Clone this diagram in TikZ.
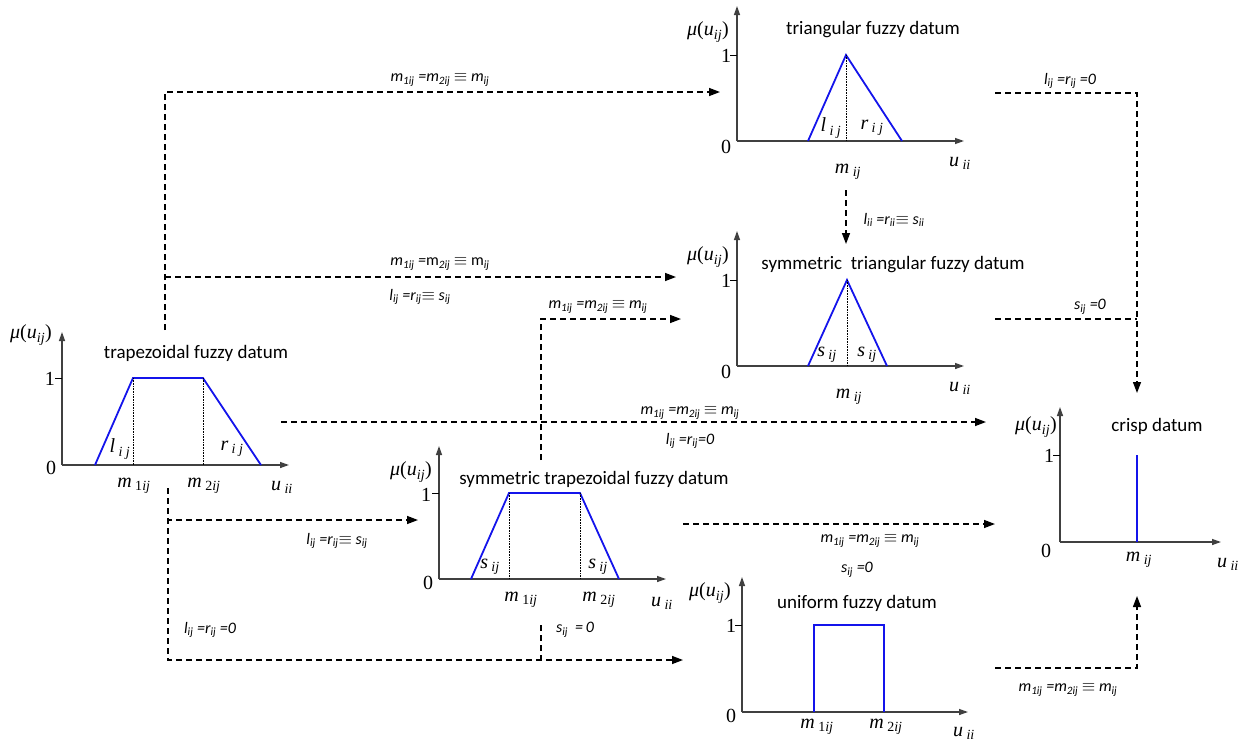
\documentclass[tikz,border=0pt]{standalone}
\usepackage{fontspec}
\setmainfont{Liberation Serif}
\newfontfamily\carl{Carlito}
\usetikzlibrary{arrows.meta}
\newcommand\tsub[1]{\textsubscript{#1}}
\newcommand\eqv{\ensuremath{\equiv}}
\newcommand\muu{\textit{μ}(\textit{u}\tsub{\textit{ij}})}
\tikzset{
  axis/.style={line width=1.3pt, draw=black!75, -{Triangle[length=9pt,width=6pt]}},
  curve/.style={draw={rgb,255:red,20;green,20;blue,235}, line width=1.8pt},
  dotl/.style={densely dotted, line width=0.6pt},
  conn/.style={dash pattern=on 6pt off 4pt, line width=1.4pt},
  arr/.style={conn, -{Triangle[length=11pt,width=8pt]}},
  lab/.style={font=\carl\itshape\fontsize{16}{18}\selectfont, inner sep=0},
  tl/.style={font=\fontsize{20}{22}\selectfont, inner sep=0},
  ttl/.style={font=\carl\fontsize{19}{21}\selectfont, inner sep=0},
}
\begin{document}
\begin{tikzpicture}[x=1pt,y=-1pt]
\useasboundingbox (0,0) rectangle (1243,742);

% ---------- triangular fuzzy datum ----------
\draw[axis] (737,141) -- (737,6);
\draw[axis] (737,141) -- (964,141);
\draw[line width=1pt] (730,55) -- (737,55);
\node[tl] (tri1) at (726,56) {1};
\node[tl] (tri0) at (726,147) {0};
\draw[curve] (808,141) -- (846,55) -- (902,141);
\draw[dotl] (846,55) -- (846,141);
\node[tl] (tril) at (831,128) {\textit{l}\,\tsub{\textit{i j}}};
\node[tl] (trir) at (872,128) {\textit{r}\,\tsub{\textit{i j}}};
\node[tl] (trim) at (848,172) {\textit{m}\,\tsub{\textit{ij}}};
\node[tl] (triu) at (960,163) {\textit{u}\,\tsub{\textit{ii}}};
\node[tl] (trimu) at (708,32) {\muu};
\node[ttl] (trit) at (873,30) {triangular fuzzy datum};

% ---------- symmetric triangular fuzzy datum ----------
\draw[axis] (737,366) -- (737,231);
\draw[axis] (737,366) -- (964,366);
\draw[line width=1pt] (730,280) -- (737,280);
\node[tl] (st1) at (726,281) {1};
\node[tl] (st0) at (726,372) {0};
\draw[curve] (808,366) -- (847,280) -- (887,366);
\draw[dotl] (847,280) -- (847,366);
\node[tl] (stl) at (827,355) {\textit{s}\,\tsub{\textit{ij}}};
\node[tl] (str) at (867,355) {\textit{s}\,\tsub{\textit{ij}}};
\node[tl] (stm) at (849,397) {\textit{m}\,\tsub{\textit{ij}}};
\node[tl] (stu) at (960,388) {\textit{u}\,\tsub{\textit{ii}}};
\node[tl] (stmu) at (708,257) {\muu};
\node[ttl] (stt) at (893,265) {symmetric\ \ triangular fuzzy datum};

% ---------- trapezoidal fuzzy datum ----------
\draw[axis] (62,465) -- (62,332);
\draw[axis] (62,465) -- (289,465);
\draw[line width=1pt] (55,378) -- (62,378);
\node[tl] (tr1) at (50,379) {1};
\node[tl] (tr0) at (51,468) {0};
\draw[curve] (95,465) -- (133,378) -- (203,378) -- (261,465);
\draw[dotl] (133,378) -- (133,465);
\draw[dotl] (203,378) -- (203,465);
\node[tl] (trl) at (120,449) {\textit{l}\,\tsub{\textit{i j}}};
\node[tl] (trr) at (232,449) {\textit{r}\,\tsub{\textit{i j}}};
\node[tl] (trm1) at (134,486) {\textit{m}\,\tsub{1\textit{ij}}};
\node[tl] (trm2) at (204,486) {\textit{m}\,\tsub{2\textit{ij}}};
\node[tl] (tru) at (282,487) {\textit{u}\,\tsub{\textit{ii}}};
\node[tl] (trmu) at (31,335) {\muu};
\node[ttl] (trt) at (196,353) {trapezoidal fuzzy datum};

% ---------- symmetric trapezoidal fuzzy datum ----------
\draw[axis] (439,579) -- (439,446);
\draw[axis] (439,579) -- (666,579);
\draw[line width=1pt] (432,493) -- (439,493);
\node[tl] (sp1) at (426,495) {1};
\node[tl] (sp0) at (428,583) {0};
\draw[curve] (471,579) -- (509,493) -- (580,493) -- (619,579);
\draw[dotl] (509,493) -- (509,579);
\draw[dotl] (580,493) -- (580,579);
\node[tl] (spl) at (490,567) {\textit{s}\,\tsub{\textit{ij}}};
\node[tl] (spr) at (598,567) {\textit{s}\,\tsub{\textit{ij}}};
\node[tl] (spm1) at (521,600) {\textit{m}\,\tsub{1\textit{ij}}};
\node[tl] (spm2) at (599,600) {\textit{m}\,\tsub{2\textit{ij}}};
\node[tl] (spu) at (662,603) {\textit{u}\,\tsub{\textit{ii}}};
\node[tl] (spmu) at (411,472) {\muu};
\node[ttl] (spt) at (594,479) {symmetric trapezoidal fuzzy datum};

% ---------- uniform fuzzy datum ----------
\draw[axis] (742,712) -- (742,577);
\draw[axis] (742,712) -- (968,712);
\draw[line width=1pt] (735,625) -- (742,625);
\node[tl] (un1) at (731,626) {1};
\node[tl] (un0) at (731,716) {0};
\draw[curve] (814,712) -- (814,625) -- (884,625) -- (884,712);
\node[tl] (unm1) at (817,727) {\textit{m}\,\tsub{1\textit{ij}}};
\node[tl] (unm2) at (886,727) {\textit{m}\,\tsub{2\textit{ij}}};
\node[tl] (unu) at (964,733) {\textit{u}\,\tsub{\textit{ii}}};
\node[tl] (unmu) at (710,593) {\muu};
\node[ttl] (unt) at (857,603) {uniform fuzzy datum};

% ---------- crisp datum ----------
\draw[axis] (1060,542) -- (1060,407);
\draw[axis] (1060,542) -- (1221,542);
\draw[line width=1pt] (1053,455) -- (1060,455);
\node[tl] (cr1) at (1049,456) {1};
\node[tl] (cr0) at (1046,551) {0};
\draw[curve] (1137,455) -- (1137,542);
\node[tl] (crm) at (1139,560) {\textit{m}\,\tsub{\textit{ij}}};
\node[tl] (cru) at (1228,564) {\textit{u}\,\tsub{\textit{ii}}};
\node[tl] (crmu) at (1036,427) {\muu};
\node[ttl] (crt) at (1157,426) {crisp datum};

% ---------- connector coordinates ----------
\coordinate (trapUp) at (165,330);
\coordinate (trapBr) at (165,277);
\coordinate (triIn) at (720,92);
\coordinate (stIn) at (676,277);
\coordinate (spUp) at (541,460);
\coordinate (stIn2) at (681,319);
\coordinate (trapR) at (281,422);
\coordinate (crIn) at (986,422);
\coordinate (trapDn) at (168,488);
\coordinate (spIn) at (418,520);
\coordinate (unIn) at (683,660);
\coordinate (spDn) at (541,625);
\coordinate (spJoin) at (541,660);
\coordinate (spR) at (683,524);
\coordinate (crIn2) at (995,524);
\coordinate (triR) at (995,93);
\coordinate (crTop) at (1137,393);
\coordinate (stR) at (995,319);
\coordinate (stJoin) at (1137,319);
\coordinate (unR) at (995,668);
\coordinate (crBot) at (1137,596);
\coordinate (triDn) at (846,190);
\coordinate (stTop) at (846,244);

% ---------- connectors ----------
\draw[arr] (trapUp) |- (triIn);
\draw[arr] (trapBr) -- (stIn);
\draw[arr] (spUp) |- (stIn2);
\draw[arr] (trapR) -- (crIn);
\draw[arr] (trapDn) |- (spIn);
\draw[arr] (trapDn) |- (unIn);
\draw[conn] (spDn) -- (spJoin);
\draw[arr] (spR) -- (crIn2);
\draw[arr] (triR) -| (crTop);
\draw[conn] (stR) -- (stJoin);
\draw[arr] (unR) -| (crBot);
\draw[arr] (triDn) -- (stTop);

% ---------- connector labels ----------
\node[lab] (c1) at (440,80) {m\tsub{1ij} =m\tsub{2ij} \eqv{} m\tsub{ij}};
\node[lab] (c2a) at (440,264) {m\tsub{1ij} =\textup{m}\tsub{2ij} \eqv{} \textup{m}\tsub{ij}};
\node[lab] (c2b) at (420,297) {l\tsub{ij} =r\tsub{ij}\eqv{} s\tsub{ij}};
\node[lab] (c3) at (598,307) {m\tsub{1ij} =m\tsub{2ij} \eqv{} m\tsub{ij}};
\node[lab] (c4a) at (690,413) {m\tsub{1ij} =m\tsub{2ij} \eqv{} m\tsub{ij}};
\node[lab] (c4b) at (690,441) {l\tsub{ij} =r\tsub{ij}=0};
\node[lab] (c5) at (337,541) {l\tsub{ij} =r\tsub{ij}\eqv{} s\tsub{ij}};
\node[lab] (c6) at (210,630) {l\tsub{ij} =r\tsub{ij} =0};
\node[lab] (c7) at (575,630) {s\tsub{ij} \ =\,0};
\node[lab] (c8a) at (870,541) {m\tsub{1ij} =m\tsub{2ij} \eqv{} m\tsub{ij}};
\node[lab] (c8b) at (857,570) {s\tsub{ij} =0};
\node[lab] (c9) at (1070,81) {l\tsub{ij} =r\tsub{ij} =0};
\node[lab] (c10) at (1090,307) {s\tsub{ij} =0};
\node[lab] (c11) at (1068,690) {m\tsub{1ij} =m\tsub{2ij} \eqv{} m\tsub{ij}};
\node[lab] (c12) at (894,220) {l\tsub{ii} =r\tsub{ii}\eqv{} s\tsub{ii}};
\end{tikzpicture}
\end{document}
